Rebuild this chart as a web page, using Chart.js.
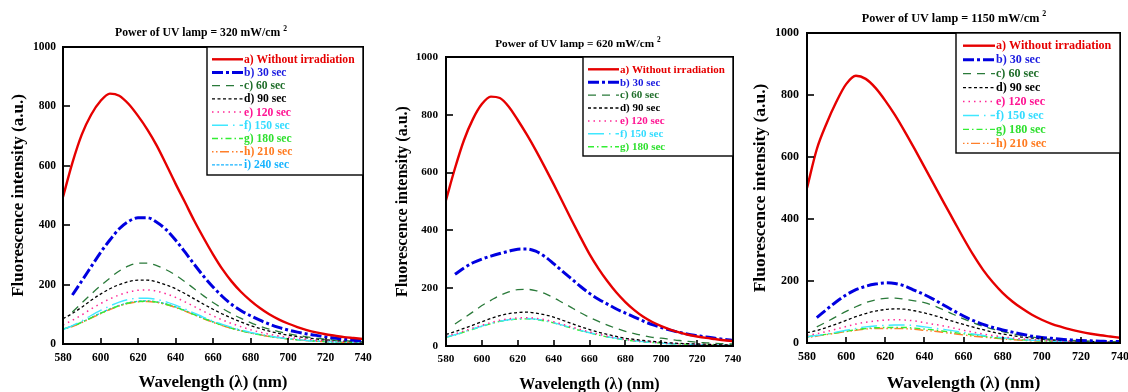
<!DOCTYPE html>
<html><head><meta charset="utf-8">
<script src="https://cdn.jsdelivr.net/npm/chart.js@4.4.1/dist/chart.umd.min.js"></script>
<style>
html,body{margin:0;padding:0;background:#fff;width:1128px;height:392px;overflow:hidden}
.panel{position:absolute;top:0;width:376px;height:392px}
canvas{display:block}
</style></head><body>
<div class="panel" style="left:0"><canvas id="c1" width="376" height="392"></canvas></div>
<div class="panel" style="left:376px"><canvas id="c2" width="376" height="392"></canvas></div>
<div class="panel" style="left:752px"><canvas id="c3" width="376" height="392"></canvas></div>
<script>
// ---------- DATA ----------
const wavelengths = [580,585,590,595,600,605,610,615,620,625,630,635,640,645,650,655,660,665,670,675,680,685,690,695,700,705,710,715,720,725,730,735,740];
const xAxisRange = {min:580, max:740, step:20};
const yAxisRange = {min:0, max:1000, step:200};
const seriesLabels = ['a) Without irradiation','b) 30 sec','c) 60 sec','d) 90 sec','e) 120 sec','f) 150 sec','g) 180 sec','h) 210 sec','i) 240 sec'];
const panelPowers = ['320','620','1150'];
const xTitle = 'Wavelength (\u03BB) (nm)';
const yTitle = 'Fluorescence intensity (a.u.)';

// Panel 1: 320 mW/cm2
const p1_a = [495,610,705,772,818,843,836,808,768,722,668,605,540,478,415,357,302,252,210,175,146,121,100,83,69,57,47,39,33,28,23,20,17];
const p1_b = [null,165,212,260,308,350,388,413,425,425,410,385,350,310,268,228,192,160,133,112,95,80,67,56,47,40,34,29,24,20,16,13,11];
const p1_c = [null,108,138,168,196,222,246,263,272,272,264,250,232,210,186,162,140,120,102,86,72,60,50,42,35,29,24,20,16,13,11,9,7];
const p1_d = [85,103,124,147,168,186,200,210,215,215,209,199,186,170,152,134,117,101,87,74,62,52,43,36,30,25,21,17,14,12,10,8,7];
const p1_e = [64,80,98,118,136,152,165,175,181,182,178,169,157,142,126,110,95,81,69,58,48,40,33,27,23,19,16,13,11,9,8,7,6];
const p1_f = [48,62,78,96,113,128,141,150,154,154,150,142,131,118,104,90,77,66,56,47,39,33,27,22,18,15,12,10,8,7,6,5,4];
const p1_g = [50,60,73,88,103,117,129,138,143,144,141,134,124,112,99,86,74,63,53,45,37,31,26,21,17,14,12,10,8,7,6,5,4];
const p1_h = [49,59,72,87,102,116,128,137,142,143,140,133,123,111,98,85,73,62,52,44,37,31,25,21,17,14,11,9,8,6,5,4,4];
const p1_i = [50,61,74,89,104,118,130,139,144,145,142,135,125,113,100,87,75,64,54,45,38,32,26,22,18,15,12,10,8,7,6,5,4];

// Panel 2: 620 mW/cm2
const p2_a = [505,615,712,785,837,863,858,828,782,732,678,620,560,498,436,376,318,268,224,185,152,124,101,83,69,57,47,39,33,28,24,20,17];
const p2_b = [null,248,270,288,301,311,320,328,335,336,328,310,285,258,232,206,182,162,145,128,114,100,86,74,64,55,47,41,36,31,27,23,20];
const p2_c = [null,76,97,118,140,158,175,187,195,196,192,182,167,150,133,115,99,85,72,61,51,43,36,30,27,23,19,16,13,11,9,8,7];
const p2_d = [40,50,61,72,84,95,105,112,116,117,114,108,100,89,78,67,57,48,40,33,27,23,19,16,13,11,9,8,7,6,5,4,4];
const p2_e = [34,42,52,62,72,81,89,94,97,98,96,91,84,75,66,57,49,41,34,28,23,19,16,13,11,9,8,7,6,5,4,4,3];
const p2_f = [31,39,49,59,69,78,86,91,94,95,93,88,81,72,63,54,46,39,32,27,22,18,15,12,10,8,7,6,5,4,4,3,3];
const p2_g = [30,38,48,58,68,77,85,90,93,94,92,87,80,71,62,53,45,38,31,26,21,17,14,12,10,8,7,6,5,4,3,3,2];

// Panel 3: 1150 mW/cm2
const p3_a = [500,625,708,778,835,862,852,823,782,735,682,626,568,510,452,395,338,284,236,196,162,134,111,91,75,62,52,43,36,30,25,21,17];
const p3_b = [null,82,108,133,155,172,183,190,194,192,184,170,156,140,122,104,87,72,60,50,42,35,28,22,18,15,12,10,8,7,6,5,5];
const p3_c = [null,52,68,85,102,117,130,139,144,145,141,136,130,120,106,92,78,65,54,45,37,30,24,19,15,12,10,8,7,6,5,4,4];
const p3_d = [33,40,50,61,73,85,95,103,108,110,109,104,97,89,79,69,60,51,43,35,29,24,19,16,13,10,8,7,6,5,4,3,3];
const p3_e = [25,30,37,45,53,61,67,71,74,75,74,71,66,60,55,48,41,35,29,24,20,16,13,11,9,7,6,5,4,4,3,3,2];
const p3_f = [20,24,29,35,41,47,52,55,57,58,58,56,52,48,44,39,34,29,24,20,17,14,11,9,8,6,5,4,4,3,3,2,2];
const p3_g = [20,24,28,33,38,43,47,49,50,50,50,48,45,42,38,34,30,26,22,18,15,12,10,8,7,6,5,4,3,3,2,2,2];
const p3_h = [18,22,27,32,37,41,45,47,47,47,46,44,41,38,34,30,26,22,19,16,13,11,9,7,6,5,4,4,3,3,2,2,2];

// ---------- STYLE ----------
const FONT = '"Liberation Serif", "Times New Roman", Times, serif';
const seriesStyles = [
  {color:'#e60000', text:'#e60000', width:2.4, dash:[]},
  {color:'#0000e0', text:'#1a1ae0', width:3, dash:[11,3,3,3]},
  {color:'#2a7a3a', text:'#1f6e2a', width:1.3, dash:[8,6]},
  {color:'#000000', text:'#000000', width:1.3, dash:[3,2.5]},
  {color:'#ff2896', text:'#ff1493', width:1.5, dash:[1.5,4]},
  {color:'#40e8ff', text:'#33dcff', width:1.4, dash:[16,5,1.5,5]},
  {color:'#33ee33', text:'#2ee02e', width:1.4, dash:[6,3,1.5,3]},
  {color:'#ff7f2a', text:'#ff7a1f', width:1.4, dash:[1.5,2.5,1.5,2.5,9,3]},
  {color:'#18b4ff', text:'#18b4ff', width:1.3, dash:[3,1.5]}
];

const panels = [
  {id:'c1', power:panelPowers[0], data:[p1_a,p1_b,p1_c,p1_d,p1_e,p1_f,p1_g,p1_h,p1_i],
   l:63, t:47, r:363, b:344, titleX:201, titleY:33, titleSize:11.7,
   yTitleX:18.5, xTitleY:383, axSize:17, tickSize:11.5, xLabelC:358, yLabelR:56,
   leg:{left:207, row0:12.3, step:13.2, height:128, sx1:212, sx2:243, tx:244, size:11.6}},
  {id:'c2', power:panelPowers[1], data:[p2_a,p2_b,p2_c,p2_d,p2_e,p2_f,p2_g],
   l:70, t:57, r:357, b:346, titleX:202, titleY:44, titleSize:11.25,
   yTitleX:26.5, xTitleY:385, axSize:16, tickSize:11.2, xLabelC:359, yLabelR:62,
   leg:{left:207, row0:12.3, step:12.9, height:99, sx1:212, sx2:243, tx:244, size:11}},
  {id:'c3', power:panelPowers[2], data:[p3_a,p3_b,p3_c,p3_d,p3_e,p3_f,p3_g,p3_h],
   l:55, t:33, r:368, b:343, titleX:202, titleY:19, titleSize:12.2,
   yTitleX:8.5, xTitleY:383, axSize:17.5, tickSize:12, xLabelC:357, yLabelR:47,
   leg:{left:204, row0:12.7, step:13.95, height:120, sx1:211, sx2:243, tx:244, size:12.1}}
];

// ---------- PLUGINS ----------
const framePlugin = {
  id:'frame',
  afterDraw(chart){
    const {ctx, chartArea:a, scales:{x,y}} = chart;
    ctx.save();
    ctx.strokeStyle = '#000';
    ctx.lineWidth = 1.6;
    x.ticks.forEach(t=>{
      const px = Math.round(x.getPixelForValue(t.value));
      ctx.beginPath(); ctx.moveTo(px, a.bottom); ctx.lineTo(px, a.bottom-6); ctx.stroke();
    });
    y.ticks.forEach(t=>{
      const py = Math.round(y.getPixelForValue(t.value));
      ctx.beginPath(); ctx.moveTo(a.left, py); ctx.lineTo(a.left+7, py); ctx.stroke();
    });
    ctx.lineWidth = 2;
    ctx.strokeRect(a.left, a.top, a.right-a.left, a.bottom-a.top);
    ctx.restore();
  }
};

const boxLegendPlugin = {
  id:'boxLegend',
  afterDraw(chart, args, o){
    const {ctx, chartArea:a} = chart;
    ctx.save();
    ctx.fillStyle = '#fff';
    ctx.fillRect(o.left, a.top, a.right-o.left, o.height);
    ctx.strokeStyle = '#000'; ctx.lineWidth = 1.4;
    ctx.strokeRect(o.left, a.top, a.right-o.left, o.height);
    ctx.font = 'bold ' + o.size + 'px ' + FONT;
    ctx.textBaseline = 'middle'; ctx.textAlign = 'left';
    chart.data.datasets.forEach((ds,i)=>{
      const yy = a.top + o.row0 + i*o.step;
      ctx.beginPath();
      ctx.setLineDash(ds.borderDash || []);
      ctx.strokeStyle = ds.borderColor;
      ctx.lineWidth = ds.borderWidth;
      ctx.moveTo(o.sx1, yy); ctx.lineTo(o.sx2, yy); ctx.stroke();
      ctx.setLineDash([]);
      ctx.fillStyle = ds.textColor;
      ctx.fillText(ds.label, o.tx, yy+0.5);
    });
    ctx.restore();
  }
};

const panelTitlePlugin = {
  id:'panelTitle',
  afterDraw(chart, args, o){
    const ctx = chart.ctx;
    ctx.save();
    ctx.fillStyle = '#000';
    ctx.textBaseline = 'middle'; ctx.textAlign = 'left';
    const main = o.text, sup = '2';
    ctx.font = 'bold ' + o.size + 'px ' + FONT;
    const w1 = ctx.measureText(main).width;
    ctx.font = 'bold ' + (o.size*0.65) + 'px ' + FONT;
    const w2 = ctx.measureText(sup).width;
    const x0 = o.x - (w1 + 3 + w2)/2;
    ctx.font = 'bold ' + o.size + 'px ' + FONT;
    ctx.fillText(main, x0, o.y);
    ctx.font = 'bold ' + (o.size*0.65) + 'px ' + FONT;
    ctx.fillText(sup, x0 + w1 + 3, o.y - o.size*0.38);
    ctx.restore();
  }
};

// ---------- BUILD ----------
panels.forEach(p=>{
  const datasets = p.data.map((arr,i)=>({
    label: seriesLabels[i],
    data: arr.map((v,j)=>({x:wavelengths[j], y:v})),
    borderColor: seriesStyles[i].color,
    textColor: seriesStyles[i].text,
    borderWidth: seriesStyles[i].width,
    borderDash: seriesStyles[i].dash,
    pointRadius: 0,
    fill: false,
    cubicInterpolationMode: 'monotone',
    spanGaps: false
  }));
  new Chart(document.getElementById(p.id), {
    type: 'line',
    data: {datasets},
    options: {
      responsive: false,
      animation: false,
      devicePixelRatio: 1,
      layout: {padding: {left:0, top:p.t, right:376-p.r, bottom:0}},
      plugins: {
        legend: {display:false},
        tooltip: {enabled:false},
        title: {display:false},
        boxLegend: p.leg,
        panelTitle: {text:'Power of UV lamp = ' + p.power + ' mW/cm', x:p.titleX, y:p.titleY, size:p.titleSize}
      },
      scales: {
        x: {
          type: 'linear',
          min: xAxisRange.min, max: xAxisRange.max,
          ticks: {stepSize: xAxisRange.step, autoSkip:false, maxRotation:0, color:'#000',
                  font:{family:FONT, size:p.tickSize, weight:'bold'},
                  callback: v => String(v),
                  padding: p.xLabelC - p.b - p.tickSize*1.2/2},
          grid: {display:false, drawTicks:false},
          border: {display:false},
          title: {display:true, text:xTitle, color:'#000',
                  font:{family:FONT, size:p.axSize, weight:'bold', lineHeight:1},
                  padding:{top:0, bottom: 392 - p.axSize/2 - p.xTitleY}},
          afterFit(sc){ sc.height = 392 - p.b; sc.paddingLeft = 0; sc.paddingRight = 0; }
        },
        y: {
          min: yAxisRange.min, max: yAxisRange.max,
          ticks: {stepSize: yAxisRange.step, color:'#000',
                  font:{family:FONT, size:p.tickSize, weight:'bold'},
                  callback: v => String(v),
                  padding: p.l - p.yLabelR},
          grid: {display:false, drawTicks:false},
          border: {display:false},
          title: {display:true, text:yTitle, color:'#000',
                  font:{family:FONT, size:p.axSize, weight:'bold', lineHeight:1},
                  padding:{top: Math.max(0, p.yTitleX - p.axSize/2), bottom:0}},
          afterFit(sc){ sc.width = p.l; sc.paddingTop = 0; sc.paddingBottom = 0; }
        }
      }
    },
    plugins: [framePlugin, boxLegendPlugin, panelTitlePlugin]
  });
});
</script>
</body></html>
